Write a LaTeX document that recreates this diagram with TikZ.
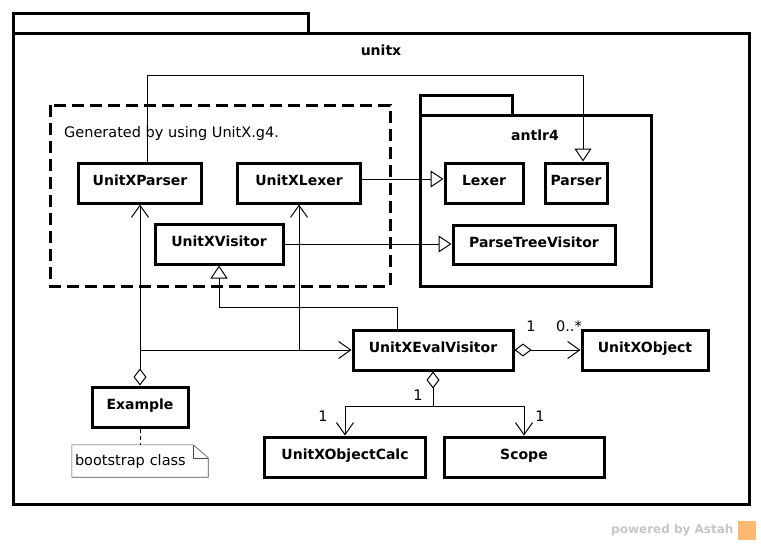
\documentclass[tikz,border=0pt]{standalone}
\usepackage{fontspec}
\setmainfont{DejaVu Sans}
\usetikzlibrary{arrows.meta}

\begin{document}
\begin{tikzpicture}[x=1pt,y=-1pt,line join=miter,
  txt/.style={font=\fontsize{14.5}{16}\selectfont},
  bold/.style={font=\fontsize{14}{16}\selectfont\bfseries},
  cls/.style={draw,line width=3pt,minimum height=40pt,inner sep=0pt,text depth=6pt,bold},
  pkg/.style={line width=3pt},
  conn/.style={line width=1pt},
  gen/.style={conn,-{Triangle[open,length=13pt,width=17pt]}},
  assoc/.style={conn,-{Straight Barb[length=12pt,width=17pt]}},
  aggr/.style={conn,{Diamond[open,length=17pt,width=13pt]}-{Straight Barb[length=12pt,width=17pt]}},
  hasa/.style={conn,{Diamond[open,length=17pt,width=13pt]}-}]
\useasboundingbox (0,0) rectangle (761,544);

\draw[pkg] (13,33) rectangle (308,13);
\draw[pkg] (13,33) rectangle (749,504);
\node[bold] (unitx) at (381,50) {unitx};

\draw[pkg,dash pattern=on 12pt off 6pt] (50,105) rectangle (390,286);
\node[txt,anchor=west,inner sep=0pt] (gen) at (64,133) {Generated by using UnitX.g4.};

\draw[pkg] (420,115) rectangle (512,95);
\draw[pkg] (420,115) rectangle (651,286);
\node[bold] (antlr) at (535,135) {antlr4};

\node[cls,minimum width=123pt] (uxparser) at (140,183) {UnitXParser};
\node[cls,minimum width=123pt] (uxlexer) at (299,183) {UnitXLexer};
\node[cls,minimum width=128pt] (uxvisitor) at (219,244) {UnitXVisitor};
\node[cls,minimum width=78pt] (lexer) at (484,183) {Lexer};
\node[cls,minimum width=62pt] (parser) at (576,183) {Parser};
\node[cls,minimum width=162pt,minimum height=39pt] (ptv) at (534,245) {ParseTreeVisitor};
\node[cls,minimum width=160pt] (eval) at (433,350) {UnitXEvalVisitor};
\node[cls,minimum width=126pt] (uobj) at (645,350) {UnitXObject};
\node[cls,minimum width=96pt] (example) at (140,407) {Example};
\node[cls,minimum width=161pt] (calc) at (345,457) {UnitXObjectCalc};
\node[cls,minimum width=160pt] (scope) at (524,457) {Scope};

\node[txt,minimum width=136pt,minimum height=32pt,inner sep=3pt,text width=130pt,align=left] (note) at (140,461) {bootstrap class};
\draw[line width=0.6pt,gray!60!black] (note.north west) -- ([xshift=-15pt]note.north east)
  -- ([yshift=-13pt]note.north east) -- (note.south east) -- (note.south west) -- cycle;
\draw[line width=0.6pt,gray!60!black] ([xshift=-15pt]note.north east) |- ([yshift=-13pt]note.north east);
\draw[conn,dash pattern=on 4pt off 3pt] (example) -- (note);

\draw[gen] ([xshift=7pt]uxparser.north) -- ++(0,-86) -| ([xshift=7pt]parser.north);
\draw[gen] ([yshift=4pt]uxlexer.east) -- ([yshift=4pt]lexer.west);
\draw[gen] (uxvisitor.east) -- (ptv.west |- uxvisitor.east);
\draw[gen] ([xshift=-36pt]eval.north) -- ++(0,-21) -| (uxvisitor.south);

\draw[aggr] (example.north) -- (uxparser.south);
\coordinate (ex) at (example.north |- eval.west);
\draw[assoc] (ex) -- (eval.west);
\draw[assoc] (uxlexer.south |- eval.west) -- (uxlexer.south);

\draw[aggr] (eval.east) -- (uobj.west);
\node[txt] (m1) at (531,326) {1};
\node[txt] (m2) at (569,326) {0..*};

\coordinate (split) at (433,406);
\draw[hasa] (eval.south) -- (split);
\draw[assoc] (split) -| (calc.north);
\draw[assoc] (split) -| (scope.north);
\node[txt] (m3) at (418,395) {1};
\node[txt] (m4) at (323,416) {1};
\node[txt] (m5) at (540,416) {1};

\node[font=\fontsize{12}{14}\selectfont\bfseries,text=gray!45,anchor=east] (astah) at (737,530) {powered by Astah};
\fill[orange!55] (738,521) rectangle (756,540);
\end{tikzpicture}
\end{document}
